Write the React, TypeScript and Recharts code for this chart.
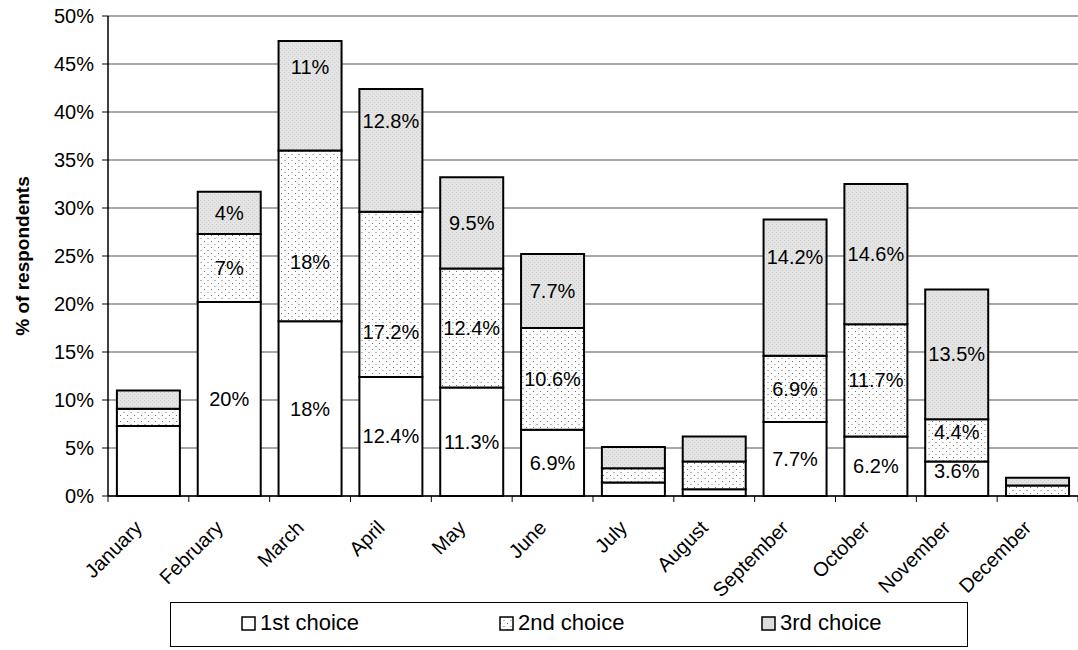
import React from 'react';
import { BarChart, Bar, XAxis, YAxis, CartesianGrid, LabelList } from 'recharts';

const months = ['January', 'February', 'March', 'April', 'May', 'June', 'July', 'August', 'September', 'October', 'November', 'December'];

// % of respondents per choice
const firstChoice = [7.3, 20.2, 18.2, 12.4, 11.3, 6.9, 1.4, 0.7, 7.7, 6.2, 3.6, 0];
const secondChoice = [1.8, 7.1, 17.8, 17.2, 12.4, 10.6, 1.5, 2.9, 6.9, 11.7, 4.4, 1.1];
const thirdChoice = [1.9, 4.4, 11.4, 12.8, 9.5, 7.7, 2.2, 2.6, 14.2, 14.6, 13.5, 0.8];

const firstLabels = ['', '20%', '18%', '12.4%', '11.3%', '6.9%', '', '', '7.7%', '6.2%', '3.6%', ''];
const secondLabels = ['', '7%', '18%', '17.2%', '12.4%', '10.6%', '', '', '6.9%', '11.7%', '4.4%', ''];
const thirdLabels = ['', '4%', '11%', '12.8%', '9.5%', '7.7%', '', '', '14.2%', '14.6%', '13.5%', ''];

const yTicks = [0, 5, 10, 15, 20, 25, 30, 35, 40, 45, 50];

const data = months.map((m, i) => ({
    month: m,
    first: firstChoice[i],
    second: secondChoice[i],
    third: thirdChoice[i],
    firstLabel: firstLabels[i],
    secondLabel: secondLabels[i],
    thirdLabel: thirdLabels[i],
}));

const FONT = 'Arial, "Liberation Sans", sans-serif';

// labels that were dragged off-centre in the original
const NUDGE: Record<string, number> = {
    'first-10': -8,
    'second-2': 26, 'second-3': 38, 'second-10': -8,
    'third-2': -29, 'third-3': -29, 'third-8': -31,
};

const makeLabel = (series: string) => (props: any) => {
    const { x, y, width, height, value, index } = props;
    if (!value) return null;
    const dy = NUDGE[`${series}-${index}`] || 0;
    return (
        <text x={x + width / 2} y={y + height / 2 + dy} textAnchor="middle" dominantBaseline="central"
            fontSize={20} fontFamily={FONT} fill="#000">
            {value}
        </text>
    );
};

/* month label + tick marks on the category boundaries */
const MonthTick = ({ x, y, payload, width, visibleTicksCount, index }: any) => {
    const half = width / visibleTicksCount / 2;
    const ax = x - 5;
    const ay = y + 33;
    return (
        <g>
            <line x1={x - half} x2={x - half} y1={y} y2={y + 6} stroke="#000" />
            {index === visibleTicksCount - 1 &&
                <line x1={x + half} x2={x + half} y1={y} y2={y + 6} stroke="#000" />}
            <text x={ax} y={ay} transform={`rotate(-45 ${ax} ${ay})`} textAnchor="end"
                fontSize={20} fontFamily={FONT} fill="#000">
                {payload.value}
            </text>
        </g>
    );
};

const AxisTitle = ({ viewBox }: any) => {
    const cx = 22;
    const cy = viewBox.y + viewBox.height / 2;
    return (
        <text x={cx} y={cy} transform={`rotate(-90 ${cx} ${cy})`} textAnchor="middle"
            dominantBaseline="central" fontSize={19} fontWeight="bold" fontFamily={FONT} fill="#000">
            % of respondents
        </text>
    );
};

/* legend swatch */
const Swatch = ({ fill }: { fill: string }) => (
    <svg width={15} height={15} style={{ marginRight: 4, marginBottom: -1 }}>
        <defs>
            <pattern id={`lg-${fill}`} width="7" height="6" patternUnits="userSpaceOnUse">
                <rect width="7" height="6" fill="#fff" />
                <rect x="1" y="1" width="1" height="1" fill="#666" />
                <rect x="4.5" y="4" width="1" height="1" fill="#666" />
            </pattern>
        </defs>
        <rect x={1} y={1} width={13} height={13} stroke="#000" strokeWidth={1.5}
            fill={fill === 'dots' ? `url(#lg-${fill})` : fill} />
    </svg>
);

const legendItems = [
    { name: '1st choice', fill: '#fff', left: 70 },
    { name: '2nd choice', fill: 'dots', left: 328 },
    { name: '3rd choice', fill: '#dcdcdc', left: 590 },
];

export default function App() {
    return (
        <div style={{ position: 'relative', width: 1078, height: 650, background: '#fff', fontFamily: FONT }}>
            <style>{'body{margin:0}'}</style>
            <BarChart width={1078} height={650} data={data} barCategoryGap="11%"
                margin={{ top: 16, right: 0, left: 0, bottom: 54 }}>
                <defs>
                    <pattern id="dots" width="7" height="6" patternUnits="userSpaceOnUse">
                        <rect width="7" height="6" fill="#fff" />
                        <rect x="1" y="1" width="1" height="1" fill="#6e6e6e" />
                        <rect x="4.5" y="4" width="1" height="1" fill="#6e6e6e" />
                    </pattern>
                    <pattern id="grey" width="4" height="4" patternUnits="userSpaceOnUse">
                        <rect width="4" height="4" fill="#e4e4e4" />
                        <rect x="0" y="0" width="1" height="1" fill="#cdcdcd" />
                        <rect x="2" y="2" width="1" height="1" fill="#cdcdcd" />
                    </pattern>
                </defs>
                <CartesianGrid vertical={false} stroke="#8a8a8a" strokeWidth={1.5} />
                <XAxis dataKey="month" height={100} tickLine={false} tickSize={0} tickMargin={0}
                    axisLine={{ stroke: '#000', strokeWidth: 1.5 }} tick={<MonthTick />} interval={0} />
                <YAxis width={108} domain={[0, 50]} ticks={yTicks} tickFormatter={(v: number) => `${v}%`}
                    tickSize={6} tickMargin={8} axisLine={{ stroke: '#000', strokeWidth: 1.5 }}
                    tickLine={{ stroke: '#000' }}
                    tick={{ fontSize: 20, fontFamily: FONT, fill: '#000' }}
                    label={<AxisTitle />} />
                <Bar dataKey="first" stackId="a" fill="#fff" stroke="#000" strokeWidth={2} isAnimationActive={false}>
                    <LabelList dataKey="firstLabel" content={makeLabel('first')} />
                </Bar>
                <Bar dataKey="second" stackId="a" fill="url(#dots)" stroke="#000" strokeWidth={2} isAnimationActive={false}>
                    <LabelList dataKey="secondLabel" content={makeLabel('second')} />
                </Bar>
                <Bar dataKey="third" stackId="a" fill="url(#grey)" stroke="#000" strokeWidth={2} isAnimationActive={false}>
                    <LabelList dataKey="thirdLabel" content={makeLabel('third')} />
                </Bar>
            </BarChart>

            {/* legend box */}
            <div style={{
                position: 'absolute', left: 170, top: 602, width: 798, height: 45,
                border: '1px solid #000', boxSizing: 'border-box',
            }}>
                {legendItems.map(it => (
                    <div key={it.name} style={{
                        position: 'absolute', left: it.left, top: 7, fontSize: 22,
                        display: 'flex', alignItems: 'center', whiteSpace: 'nowrap',
                    }}>
                        <Swatch fill={it.fill} />
                        <span>{it.name}</span>
                    </div>
                ))}
            </div>
        </div>
    );
}
